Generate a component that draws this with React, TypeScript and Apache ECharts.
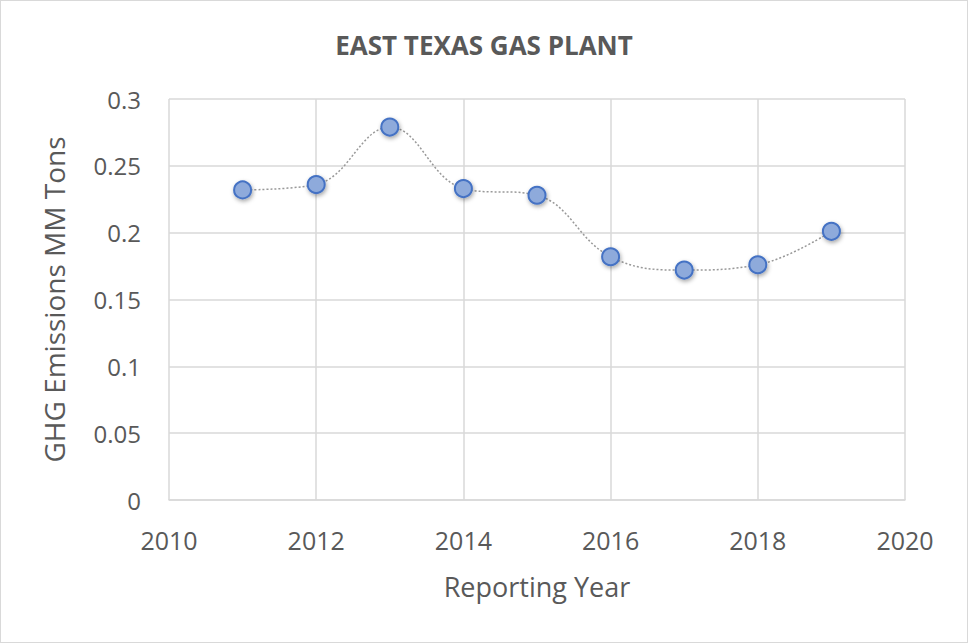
import React, { useEffect, useRef } from "react";
import * as echarts from "echarts";

const years = [2011, 2012, 2013, 2014, 2015, 2016, 2017, 2018, 2019];
const emissions = [0.232, 0.236, 0.279, 0.233, 0.228, 0.182, 0.172, 0.176, 0.201];
const titleText = "EAST TEXAS GAS PLANT";
const xName = "Reporting Year";
const yName = "GHG Emissions MM Tons";

export default function App() {
  const ref = useRef<HTMLDivElement>(null);
  useEffect(() => {
    if (!ref.current) return;
    const chart = echarts.init(ref.current, null, { renderer: "svg" });
    const font = "'Open Sans', 'Noto Sans', sans-serif";
    chart.setOption({
      animation: false,
      backgroundColor: "#ffffff",
      title: {
        text: titleText,
        left: "center",
        top: 26,
        textStyle: { fontFamily: font, fontSize: 26, fontWeight: "bold", color: "#595959" },
      },
      grid: { left: 168, right: 62, top: 98, bottom: 142, containLabel: false },
      xAxis: {
        type: "value",
        min: 2010,
        max: 2020,
        interval: 2,
        name: xName,
        nameLocation: "middle",
        nameGap: 73,
        nameTextStyle: { fontFamily: font, fontSize: 27, color: "#595959" },
        axisLine: { show: true, lineStyle: { color: "#d9d9d9", width: 1.5 } },
        axisTick: { show: false },
        axisLabel: {
          fontFamily: font,
          fontSize: 25,
          color: "#595959",
          margin: 27,
          formatter: (v: number) => String(v),
        },
        splitLine: { show: true, lineStyle: { color: "#d9d9d9", width: 1.5 } },
      },
      yAxis: {
        type: "value",
        min: 0,
        max: 0.3,
        interval: 0.05,
        name: yName,
        nameLocation: "middle",
        nameGap: 101,
        nameRotate: 90,
        nameTextStyle: { fontFamily: font, fontSize: 28, color: "#595959" },
        axisLine: { show: false },
        axisTick: { show: false },
        axisLabel: { fontFamily: font, fontSize: 24, color: "#595959", margin: 28 },
        splitLine: { show: true, lineStyle: { color: "#d9d9d9", width: 1.5 } },
      },
      series: [
        {
          type: "line",
          data: years.map((y, i) => [y, emissions[i]]),
          smooth: 0.4,
          symbol: "circle",
          symbolSize: 17,
          lineStyle: { color: "#999999", width: 1.5, type: [2, 2] },
          itemStyle: {
            color: "#8eaadb",
            borderColor: "#4472c4",
            borderWidth: 2,
            shadowBlur: 4,
            shadowColor: "rgba(0,0,0,0.35)",
            shadowOffsetX: 1,
            shadowOffsetY: 2,
          },
        },
      ],
    });
    return () => chart.dispose();
  }, []);
  return (
    <div
      style={{
        position: "fixed",
        left: 0,
        top: 0,
        width: 968,
        height: 643,
        boxSizing: "border-box",
        border: "1.5px solid #d9d9d9",
        background: "#fff",
      }}
    >
      <div ref={ref} style={{ width: "100%", height: "100%" }} />
    </div>
  );
}
